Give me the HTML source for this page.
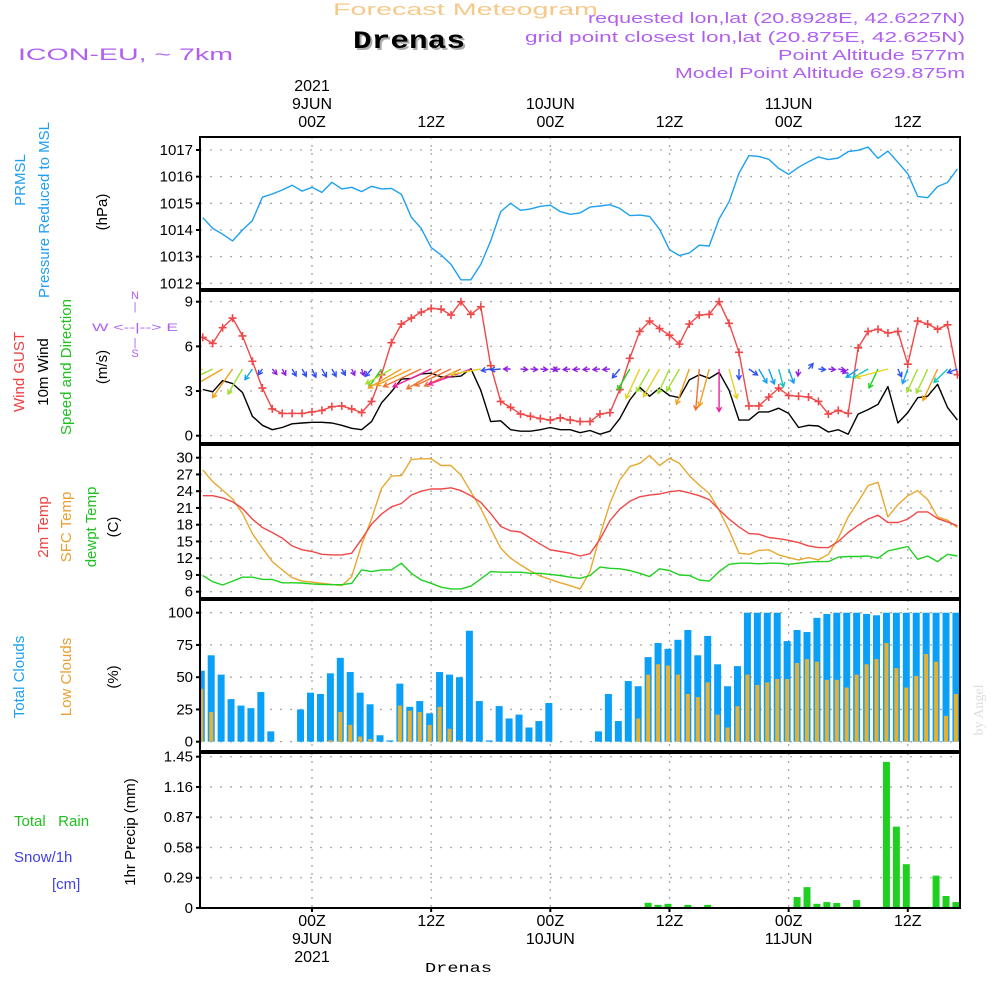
<!DOCTYPE html>
<html><head><meta charset="utf-8"><style>
html,body{margin:0;padding:0;background:#fff;}
svg{display:block;font-family:"Liberation Sans",sans-serif;}
</style></head><body>
<svg id="chart" width="1000" height="1000" viewBox="0 0 1000 1000" xmlns="http://www.w3.org/2000/svg">
<rect x="0" y="0" width="1000" height="1000" fill="#fff"/>
<text x="333" y="15" font-size="17" fill="#f5c98a" textLength="265" lengthAdjust="spacingAndGlyphs">Forecast Meteogram</text>
<text x="355" y="50" font-size="25" font-weight="bold" font-family="Liberation Mono,monospace" fill="#aaa" textLength="112" lengthAdjust="spacingAndGlyphs">Drenas</text>
<text x="353" y="48" font-size="25" font-weight="bold" font-family="Liberation Mono,monospace" fill="#000" textLength="112" lengthAdjust="spacingAndGlyphs">Drenas</text>
<text x="18" y="60" font-size="17" fill="#b060f0" textLength="215" lengthAdjust="spacingAndGlyphs">ICON-EU, ~ 7km</text>
<g font-size="15" fill="#b060f0">
<text x="588" y="23" textLength="377" lengthAdjust="spacingAndGlyphs">requested lon,lat (20.8928E, 42.6227N)</text>
<text x="525" y="42" textLength="440" lengthAdjust="spacingAndGlyphs">grid point closest lon,lat (20.875E, 42.625N)</text>
<text x="778" y="60" textLength="187" lengthAdjust="spacingAndGlyphs">Point Altitude 577m</text>
<text x="675" y="78" textLength="290" lengthAdjust="spacingAndGlyphs">Model Point Altitude 629.875m</text>
</g>
<g id="top-axis" font-size="16" text-anchor="middle" fill="#000"></g>
<g id="bottom-axis" font-size="16" text-anchor="middle" fill="#000"></g>
<text x="425" y="972" font-size="14" font-family="Liberation Mono,monospace" textLength="67" lengthAdjust="spacingAndGlyphs">Drenas</text>
<text transform="translate(983,710) rotate(-90)" font-size="14" font-family="Liberation Serif,serif" fill="#ddd" text-anchor="middle">by Angel</text>

<g font-size="15" text-anchor="middle">
<text transform="translate(25,180) rotate(-90)" fill="#1ea0f0">PRMSL</text>
<text transform="translate(49,210) rotate(-90)" fill="#1ea0f0">Pressure Reduced to MSL</text>
<text transform="translate(107,212) rotate(-90)" fill="#000">(hPa)</text>
<text transform="translate(24,372) rotate(-90)" fill="#f04040">Wind GUST</text>
<text transform="translate(48,372) rotate(-90)" fill="#000">10m Wind</text>
<text transform="translate(71,367) rotate(-90)" fill="#20c020">Speed and Direction</text>
<text transform="translate(107,367) rotate(-90)" fill="#000">(m/s)</text>
<text transform="translate(48,527) rotate(-90)" fill="#f04040">2m Temp</text>
<text transform="translate(71,527) rotate(-90)" fill="#e8a030">SFC Temp</text>
<text transform="translate(96,527) rotate(-90)" fill="#20c020">dewpt Temp</text>
<text transform="translate(118,527) rotate(-90)" fill="#000">(C)</text>
<text transform="translate(24,677) rotate(-90)" fill="#1ea0f0">Total Clouds</text>
<text transform="translate(71,677) rotate(-90)" fill="#e8a030">Low Clouds</text>
<text transform="translate(118,677) rotate(-90)" fill="#000">(%)</text>
<text transform="translate(135,832) rotate(-90)" fill="#000">1hr Precip (mm)</text>
</g>
<text x="14" y="826" font-size="15" fill="#20c020" xml:space="preserve">Total   Rain</text>
<text x="14" y="862" font-size="15" fill="#4040f0">Snow/1h</text>
<text x="52" y="889" font-size="15" fill="#4040f0">[cm]</text>
<g font-size="11" fill="#b060f0" text-anchor="middle">
<text x="135" y="299">N</text>
<text x="135" y="310">|</text>
<text x="92" y="331" text-anchor="start" textLength="86" lengthAdjust="spacingAndGlyphs">W &lt;--|--&gt; E</text>
<text x="135" y="346">|</text>
<text x="135" y="357">S</text>
</g>
<g id="panels"></g>
</svg>
<script>
// ---------- data (hourly, hour -11 .. 65 relative to 9JUN 00Z) ----------
const hourStart = -11;
const timeTicks = [0, 12, 24, 36, 48, 60];
const timeTickLabels = ["00Z", "12Z", "00Z", "12Z", "00Z", "12Z"];
const dayLabels = ["9JUN", "", "10JUN", "", "11JUN", ""];
const pressureTicks = [1012, 1013, 1014, 1015, 1016, 1017];
const pressure = [1014.46,1014.06,1013.84,1013.59,1014.0,1014.35,1015.23,1015.35,1015.5,1015.68,1015.46,1015.6,1015.41,1015.79,1015.54,1015.6,1015.44,1015.64,1015.54,1015.56,1015.34,1014.48,1014.06,1013.34,1013.06,1012.71,1012.13,1012.13,1012.71,1013.59,1014.69,1015.0,1014.74,1014.79,1014.89,1014.93,1014.69,1014.59,1014.64,1014.86,1014.9,1014.95,1014.81,1014.54,1014.56,1014.51,1014.03,1013.26,1013.04,1013.14,1013.43,1013.4,1014.41,1015.06,1016.13,1016.79,1016.76,1016.65,1016.31,1016.09,1016.35,1016.56,1016.74,1016.64,1016.7,1016.94,1016.99,1017.11,1016.69,1016.96,1016.54,1016.11,1015.26,1015.21,1015.63,1015.78,1016.29];
const windTicks = [0, 3, 6, 9];
const gust = [6.6,6.2,7.25,7.9,6.7,5.0,3.2,1.8,1.5,1.5,1.5,1.6,1.7,1.95,2.0,1.8,1.55,2.3,4.1,6.25,7.5,7.9,8.3,8.55,8.5,8.1,9.0,8.15,8.66,4.7,2.3,1.9,1.45,1.3,1.15,1.05,1.2,1.05,0.95,0.95,1.45,1.55,3.1,5.2,7.0,7.7,7.2,6.75,6.15,7.5,8.1,8.15,9.0,7.55,5.6,2.0,2.0,2.6,3.2,2.7,2.65,2.6,2.3,1.45,1.7,1.5,5.9,7.0,7.15,6.9,7.0,4.8,7.7,7.5,7.15,7.45,4.1];
const windSpeed = [3.1,2.95,3.7,3.5,2.9,1.3,0.7,0.4,0.55,0.8,0.85,0.9,0.9,0.85,0.7,0.5,0.4,0.95,2.2,2.95,3.8,3.85,4.15,4.2,3.95,3.95,4.0,4.5,3.05,0.95,1.0,0.4,0.3,0.3,0.4,0.55,0.4,0.4,0.2,0.35,0.1,0.3,1.15,2.4,3.25,2.65,3.2,2.7,2.55,3.75,4.1,3.85,4.25,3.05,1.05,1.05,1.6,1.6,1.85,1.5,0.55,0.7,0.65,0.25,0.4,0.1,1.45,1.75,2.1,3.3,0.85,1.55,2.55,2.65,3.45,1.9,1.05];
const windDirTo = [250,245,240,215,210,215,215,140,150,150,150,155,150,150,150,155,160,220,215,240,240,245,245,245,240,245,245,250,260,260,265,270,95,95,95,95,265,265,265,265,265,265,220,210,205,210,210,205,210,200,185,195,180,165,180,125,150,160,165,160,185,40,95,95,100,230,235,240,205,255,155,200,205,205,205,225,250];
const tempTicks = [6, 9, 12, 15, 18, 21, 24, 27, 30];
const temp2m = [23.2,23.2,22.8,22.1,20.9,19.0,17.5,16.6,15.6,14.2,13.5,13.2,12.7,12.6,12.6,12.9,15.4,18.1,19.9,21.2,21.8,23.3,24.0,24.4,24.4,24.6,24.1,23.2,22.0,20.0,17.7,16.9,16.7,15.6,14.5,13.5,13.2,12.9,12.4,12.8,15.4,18.7,20.8,22.2,23.0,23.3,23.5,23.9,24.1,23.7,23.2,22.5,20.7,19.0,17.6,16.4,16.3,15.7,15.5,15.2,14.8,14.2,13.9,13.9,15.0,16.6,17.9,19.0,19.7,18.4,18.4,19.0,20.3,20.3,19.1,18.5,17.8];
const tempSfc = [27.8,25.7,24.2,22.6,20.0,16.4,13.8,11.4,9.9,8.5,7.9,7.7,7.5,7.3,7.1,8.7,14.4,19.1,24.5,26.7,26.8,29.7,29.8,29.8,28.6,28.6,26.9,23.9,20.9,17.3,13.8,12.0,10.8,9.7,8.8,8.2,7.6,7.1,6.5,9.6,16.1,21.8,26.0,28.4,29.0,30.4,28.6,29.9,29.0,26.8,25.1,23.6,20.6,17.0,12.9,12.7,13.4,13.5,12.6,12.1,11.7,12.1,11.7,12.7,15.6,19.4,22.1,25.0,25.6,19.4,21.6,23.2,24.1,22.5,19.4,18.8,17.5];
const dewpoint = [8.9,7.8,7.2,7.9,8.6,8.6,8.2,8.2,7.6,7.6,7.55,7.4,7.3,7.25,7.25,7.5,9.9,9.6,9.9,9.9,11.1,9.3,8.1,7.5,6.8,6.5,6.5,7.0,8.3,9.6,9.5,9.5,9.5,9.3,9.3,9.1,8.9,8.6,8.4,8.9,10.4,10.2,10.1,9.8,9.3,8.7,10.1,9.8,9.0,8.9,8.1,7.9,9.6,10.9,11.1,11.1,11.0,11.1,11.1,10.9,11.1,11.3,11.4,11.4,12.2,12.3,12.3,12.4,12.0,13.3,13.7,14.1,11.8,12.4,11.4,12.7,12.4];
const cloudTicks = [0, 25, 50, 75, 100];
const totalClouds = [55,67,52,33,28,26,38.5,8,0,0,25,38,37,53,65,54,38,29,5,1,45,27,31.5,22,54,52,50,86,31.5,1,27.6,18,21,11,16,30,0,0,0,0,8,37,16,47,43,65.6,76.5,72,79,86.6,67,82,60,43,58.6,100,100,100,100,78,86.6,85,96,99,100,100,100,99,98,100,100,100,100,100,100,100,100];
const lowClouds = [41,23,0,0,0,0,0,0,0,0,0,0,0,1,23,13,4,2,0,0,28,24,23,13,27,10,1,0,0,0,0,0,0,0,0,0,0,0,0,0,0,0,0,0,18,52,60,59,52,37,34.6,46,21,11,27.6,52,44,46,48.6,48.6,61,64,62,48,48,42,52,60,64,76.5,57,42,51,68,62,20,37];
const precipTicks = [0, 0.29, 0.58, 0.87, 1.16, 1.45];
const precipTickLabels = ["0", "0.29", "0.58", "0.87", "1.16", "1.45"];
const precip = [0,0,0,0,0,0,0,0,0,0,0,0,0,0,0,0,0,0,0,0,0,0,0,0,0,0,0,0,0,0,0,0,0,0,0,0,0,0,0,0,0,0,0,0,0.01,0.05,0.03,0.04,0.01,0.03,0.01,0.03,0,0,0.01,0,0,0,0,0,0.105,0.2,0.04,0.057,0.048,0,0.076,0,0,1.40,0.78,0.42,0,0.01,0.31,0.115,0.057];

// ---------- layout ----------
const NS = "http://www.w3.org/2000/svg";
const svg = document.getElementById("chart");
const panelsG = document.getElementById("panels");
const PL = 200, PR = 960;
function X(h){ return 312 + h * 9.93; }
function mk(tag, attrs, parent){ const e = document.createElementNS(NS, tag); for (const k in attrs) e.setAttribute(k, attrs[k]); (parent || panelsG).appendChild(e); return e; }
function lin(v0, v1, y0, y1){ return v => y0 + (v - v0) * (y1 - y0) / (v1 - v0); }

const panels = [
  {name:"pressure", top:137, bot:289, y: lin(1012,1017,283.3,150), ticks: pressureTicks, labels: pressureTicks.map(String)},
  {name:"wind", top:291, bot:443, y: lin(0,9,435.7,301.7), ticks: windTicks, labels: windTicks.map(String)},
  {name:"temp", top:445, bot:598, y: lin(6,30,591.7,457.7), ticks: tempTicks, labels: tempTicks.map(String)},
  {name:"clouds", top:600, bot:751, y: lin(0,100,741.7,612.7), ticks: cloudTicks, labels: cloudTicks.map(String)},
  {name:"precip", top:753, bot:908, y: lin(0,1.45,908,756.7), ticks: precipTicks, labels: precipTickLabels}
];

panels.forEach((p, i) => {
  const g = mk("g", {});
  
  
  const cp = mk("clipPath", {id: "clip" + i}, g);
  mk("rect", {x: PL, y: p.top, width: PR - PL, height: p.bot - p.top}, cp);
  p.ticks.forEach(t => {
    const gl = mk("line", {x1: PL, x2: PR, y1: p.y(t), y2: p.y(t), stroke: "#aaa", "stroke-width": 1.3, "stroke-dasharray": "2,8"}, g);
    
    
  });
  timeTicks.forEach(t => {
    const vl = mk("line", {x1: X(t), x2: X(t), y1: p.top, y2: p.bot, stroke: "#aaa", "stroke-width": 1.3, "stroke-dasharray": "2,6"}, g);
    
    
  });
  p.ticks.forEach((t, k) => {
    const tl = mk("text", {x: 193, y: p.y(t) + 5, "font-size": 15, "text-anchor": "end", fill: "#000"}, g);
    tl.textContent = p.labels[k];
    
    
    const tm = mk("line", {x1: PL - 4, x2: PL, y1: p.y(t), y2: p.y(t), stroke: "#000", "stroke-width": 2}, g);
    
    
  });
  p.g = mk("g", {"clip-path": "url(#clip" + i + ")"}, g);
  p.frame = g;
});

function series(p, arr, color, name, w){
  const pts = arr.map((v, i) => X(hourStart + i).toFixed(1) + "," + p.y(v).toFixed(1)).join(" ");
  const pl = mk("polyline", {points: pts, fill: "none", stroke: color, "stroke-width": w || 1.4, "stroke-linejoin": "round"}, p.g);
  
  
}

series(panels[0], pressure, "#1ea0f0", "pressure-line");

const pw = panels[1];
series(pw, windSpeed, "#000", "wind-speed-line");
series(pw, gust, "#f04848", "gust-line");
gust.forEach((v, i) => {
  const x = X(hourStart + i), y = pw.y(v);
  const m = mk("path", {d: `M${x-4},${y}H${x+4}M${x},${y-4}V${y+4}`, stroke: "#f04848", "stroke-width": 1.6}, pw.g);
  
  
});
function windColor(s){
  if (s < 0.6) return "#9020e0";
  if (s < 1.2) return "#3050f0";
  if (s < 1.7) return "#10a0f0";
  if (s < 2.1) return "#10c8c0";
  if (s < 2.5) return "#20d020";
  if (s < 3.0) return "#a0e030";
  if (s < 3.4) return "#e8d020";
  if (s < 3.9) return "#f0a020";
  if (s < 4.2) return "#f07030";
  return "#f020a0";
}
windDirTo.forEach((d, i) => {
  const s = windSpeed[i];
  const len = Math.max(7, s * 10);
  const a = d * Math.PI / 180;
  const x0 = X(hourStart + i), y0 = 369;
  const x1 = x0 + Math.sin(a) * len, y1 = y0 - Math.cos(a) * len;
  const hx = Math.sin(a), hy = -Math.cos(a);
  const hl = 5;
  const p1x = x1 - hl * (hx * 0.87 - hy * 0.5), p1y = y1 - hl * (hy * 0.87 + hx * 0.5);
  const p2x = x1 - hl * (hx * 0.87 + hy * 0.5), p2y = y1 - hl * (hy * 0.87 - hx * 0.5);
  const ar = mk("path", {d: `M${x0.toFixed(1)},${y0}L${x1.toFixed(1)},${y1.toFixed(1)}M${p1x.toFixed(1)},${p1y.toFixed(1)}L${x1.toFixed(1)},${y1.toFixed(1)}L${p2x.toFixed(1)},${p2y.toFixed(1)}`, stroke: windColor(s), "stroke-width": 1.4, fill: "none"}, pw.g);
  
  
});

const pt = panels[2];
series(pt, tempSfc, "#e8a830", "sfc-temp-line");
series(pt, temp2m, "#f04848", "temp-2m-line");
series(pt, dewpoint, "#20d020", "dewpoint-line");

const pc = panels[3];
totalClouds.forEach((v, i) => {
  const cx = X(hourStart + i) - 1.5, y0 = pc.y(0), y1 = pc.y(v);
  const b = mk("rect", {x: cx - 3.5, y: y1, width: 7, height: Math.max(0.01, y0 - y1), fill: "#0aa0f8"}, pc.g);
  
  
  const lv = lowClouds[i], ly = pc.y(lv);
  const ob = mk("rect", {x: cx - 2, y: ly, width: 4, height: Math.max(0.01, y0 - ly), fill: "#e8b030"}, pc.g);
  
  
});

const pp = panels[4];
precip.forEach((v, i) => {
  if (v <= 0) return;
  const cx = X(hourStart + i) - 1.5, y0 = pp.y(0), y1 = pp.y(v);
  const b = mk("rect", {x: cx - 3.5, y: y1, width: 7, height: y0 - y1, fill: "#20d020"}, pp.g);
  
  
});

panels.forEach(p => {
  const r = mk("rect", {x: PL, y: p.top, width: PR - PL, height: p.bot - p.top, fill: "none", stroke: "#000", "stroke-width": 2}, p.frame);
  
  
});

const topG = document.getElementById("top-axis");
const botG = document.getElementById("bottom-axis");
timeTicks.forEach((t, k) => {
  const x = X(t);
  const a = mk("text", {x: x, y: 127}, topG); a.textContent = timeTickLabels[k];
   
  const b = mk("text", {x: x, y: 926}, botG); b.textContent = timeTickLabels[k];
   
  if (dayLabels[k]) {
    const c = mk("text", {x: x, y: 109}, topG); c.textContent = dayLabels[k];
     
    const d = mk("text", {x: x, y: 944}, botG); d.textContent = dayLabels[k];
     
  }
  const tk = mk("line", {x1: x, x2: x, y1: 908, y2: 912, stroke: "#000", "stroke-width": 2}, botG);
   
});
const y1 = mk("text", {x: X(0), y: 91}, topG); y1.textContent = "2021";
 
const y2 = mk("text", {x: X(0), y: 962}, botG); y2.textContent = "2021";
 
</script>
</body></html>
